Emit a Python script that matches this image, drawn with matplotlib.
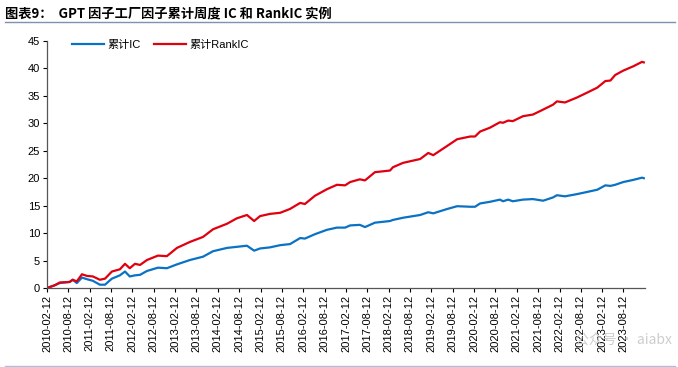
import matplotlib
matplotlib.use("Agg")
import matplotlib.pyplot as plt
import pandas as pd
from matplotlib.lines import Line2D

plt.rcParams['font.family'] = ['Liberation Sans', 'Noto Sans CJK SC', 'DejaVu Sans']

dates = ["2010-02-12", "2010-04-20", "2010-06-01", "2010-08-25", "2010-09-20", "2010-10-25",
         "2010-12-08", "2011-01-20", "2011-03-12", "2011-05-10", "2011-06-23", "2011-08-21",
         "2011-10-28", "2011-12-11", "2012-01-21", "2012-03-05", "2012-04-18", "2012-06-16",
         "2012-09-18", "2012-12-03", "2013-02-27", "2013-06-19", "2013-10-08", "2014-01-02",
         "2014-05-01", "2014-07-25", "2014-10-19", "2014-12-19", "2015-02-08", "2015-05-04",
         "2015-07-30", "2015-10-22", "2016-01-17", "2016-02-26", "2016-05-22", "2016-09-02",
         "2016-11-26", "2017-02-04", "2017-03-19", "2017-06-10", "2017-07-24", "2017-10-17",
         "2017-11-30", "2018-02-23", "2018-03-20", "2018-06-15", "2018-11-08", "2019-01-16",
         "2019-02-28", "2019-06-28", "2019-09-20", "2020-01-10", "2020-02-20", "2020-04-03",
         "2020-06-26", "2020-09-20", "2020-10-16", "2020-11-29", "2021-01-08", "2021-04-05",
         "2021-06-29", "2021-09-24", "2021-12-18", "2022-01-20", "2022-03-30", "2022-07-10",
         "2022-10-06", "2022-12-31", "2023-03-10", "2023-04-23", "2023-06-02", "2023-08-10",
         "2023-11-05", "2024-01-18", "2024-02-02"]

cum_ic = [0.0, 0.5, 0.9, 1.1, 1.5, 0.9,
          1.9, 1.6, 1.3, 0.6, 0.6, 1.7,
          2.3, 3.0, 2.1, 2.3, 2.4, 3.1,
          3.7, 3.6, 4.3, 5.1, 5.7, 6.7,
          7.3, 7.5, 7.7, 6.8, 7.2, 7.4,
          7.8, 8.0, 9.1, 9.0, 9.8, 10.6,
          11.0, 11.0, 11.4, 11.5, 11.1, 11.9,
          12.0, 12.2, 12.4, 12.8, 13.3, 13.8,
          13.6, 14.4, 14.9, 14.8, 14.8, 15.4,
          15.7, 16.1, 15.8, 16.1, 15.8, 16.1,
          16.2, 15.9, 16.5, 16.9, 16.7, 17.1,
          17.5, 17.9, 18.7, 18.6, 18.8, 19.3,
          19.7, 20.1, 20.0]

cum_rankic = [0.0, 0.5, 1.0, 1.1, 1.5, 1.2,
              2.5, 2.2, 2.1, 1.5, 1.7, 3.0,
              3.4, 4.4, 3.6, 4.4, 4.2, 5.1,
              5.9, 5.8, 7.3, 8.4, 9.3, 10.7,
              11.7, 12.7, 13.3, 12.2, 13.1, 13.5,
              13.7, 14.4, 15.5, 15.3, 16.8, 18.0,
              18.8, 18.7, 19.3, 19.8, 19.6, 21.1,
              21.2, 21.4, 22.0, 22.8, 23.5, 24.6,
              24.2, 25.9, 27.1, 27.6, 27.6, 28.5,
              29.2, 30.2, 30.1, 30.5, 30.4, 31.3,
              31.6, 32.5, 33.4, 34.0, 33.8, 34.7,
              35.6, 36.5, 37.7, 37.8, 38.8, 39.6,
              40.4, 41.2, 41.1]

tick_labels = ["2010-02-12", "2010-08-12", "2011-02-12", "2011-08-12", "2012-02-12",
               "2012-08-12", "2013-02-12", "2013-08-12", "2014-02-12", "2014-08-12",
               "2015-02-12", "2015-08-12", "2016-02-12", "2016-08-12", "2017-02-12",
               "2017-08-12", "2018-02-12", "2018-08-12", "2019-02-12", "2019-08-12",
               "2020-02-12", "2020-08-12", "2021-02-12", "2021-08-12", "2022-02-12",
               "2022-08-12", "2023-02-12", "2023-08-12"]

labels = ["累计IC", "累计RankIC"]
colors = ["#0A72C4", "#E0000F"]

x = pd.to_datetime(dates)
tick_dates = pd.to_datetime(tick_labels)

fig = plt.figure(figsize=(6.78, 3.67), dpi=100)
ax = fig.add_axes([0.0693, 0.2153, 0.8820, 0.6730])

ax.plot(x, cum_ic, color=colors[0], lw=1.6, label=labels[0])
ax.plot(x, cum_rankic, color=colors[1], lw=1.6, label=labels[1])

ax.set_ylim(0, 45)
ax.set_yticks(range(0, 46, 5))
ax.set_xlim(pd.Timestamp("2010-02-12"), pd.Timestamp("2024-02-12"))
ax.set_xticks(tick_dates)
ax.set_xticklabels(tick_labels, rotation=90, fontsize=8)
ax.tick_params(axis='y', labelsize=8, direction='out', length=3, width=0.8, pad=2, colors='#000000')
ax.tick_params(axis='x', direction='out', length=3, width=0.8, pad=2)

for s in ['top', 'right']:
    ax.spines[s].set_visible(False)
for s in ['left', 'bottom']:
    ax.spines[s].set_color('#555555')
    ax.spines[s].set_linewidth(0.9)

ax.legend(loc='upper left', bbox_to_anchor=(0.025, 1.045), ncol=2, frameon=False,
          handlelength=2.9, columnspacing=1.2, handletextpad=0.3,
          prop={'family': ['Liberation Sans', 'Noto Sans CJK SC'], 'size': 8})

fig.text(0.008, 0.962, "图表9：  GPT 因子工厂因子累计周度 IC 和 RankIC 实例",
         fontsize=9.5, fontweight='bold', va='center', ha='left',
         family=['Noto Sans CJK SC', 'DejaVu Sans'])
fig.add_artist(Line2D([0.008, 0.995], [0.94, 0.94], color='#7F93B0', lw=1.0))
fig.add_artist(Line2D([0.008, 0.995], [0.004, 0.004], color='#A9C1E0', lw=1.0))

fig.text(0.848, 0.072, "公众号 · aiabx", fontsize=10, color='#C8C8C8', alpha=0.9,
         va='center', ha='left', family=['Noto Sans CJK SC', 'DejaVu Sans'])

fig.savefig("out.png", dpi=100)
